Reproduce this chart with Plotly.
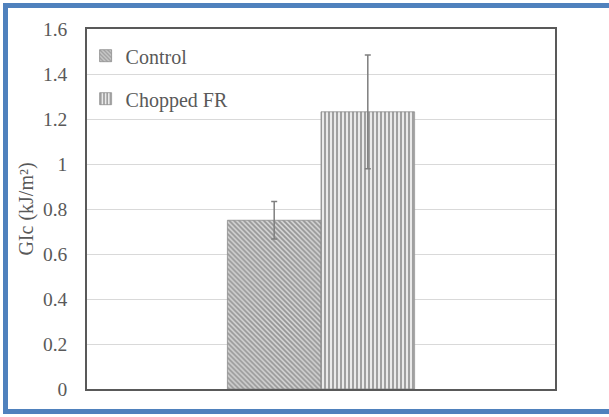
import plotly.graph_objects as go

categories = ["Sample"]
series_names = ["Control", "Chopped FR"]
control_vals = [0.75]
control_err = [0.083]
chopped_vals = [1.232]
chopped_err = [0.253]
y_tick_vals = [0, 0.2, 0.4, 0.6, 0.8, 1.0, 1.2, 1.4, 1.6]
y_tick_text = ["0", "0.2", "0.4", "0.6", "0.8", "1", "1.2", "1.4", "1.6"]

FONT = "Liberation Serif, Times New Roman, serif"
GRAY = "#595959"

fig = go.Figure()
fig.add_trace(go.Bar(
    x=categories, y=control_vals, name=series_names[0], legendgroup="a",
    marker=dict(color="#bfbfbf", line=dict(color="#8c8c8c", width=0.8),
                pattern=dict(shape="\\", size=3.5, solidity=0.5,
                             fgcolor="#555555", bgcolor="#d4d4d4", fillmode="overlay")),
    error_y=dict(type="data", array=control_err, color="#7f7f7f", thickness=1.5, width=3),
))
fig.add_trace(go.Bar(
    x=categories, y=chopped_vals, name=series_names[1], legendgroup="b",
    marker=dict(color="white", line=dict(color="#8c8c8c", width=0.8),
                pattern=dict(shape="|", size=4, solidity=0.55,
                             fgcolor="#4d4d4d", bgcolor="#f2f2f2", fillmode="overlay")),
    error_y=dict(type="data", array=chopped_err, color="#7f7f7f", thickness=1.5, width=3),
))

fig.update_layout(
    width=609, height=417,
    margin=dict(l=87, r=54, t=29, b=28),
    paper_bgcolor="white", plot_bgcolor="white",
    barmode="group", bargap=0.6, bargroupgap=0,
    font=dict(family=FONT, color=GRAY, size=18),
    showlegend=True,
    legend=dict(x=-0.003, y=0.98, xanchor="left", yanchor="top",
                bgcolor="rgba(0,0,0,0)", font=dict(size=20, color=GRAY, family=FONT),
                tracegroupgap=14, itemwidth=30),
    xaxis=dict(showticklabels=False, ticks="", showgrid=False,
               showline=True, linecolor=GRAY, linewidth=1.5, mirror=True, range=[-0.5, 0.5]),
    yaxis=dict(range=[0, 1.6], tickvals=y_tick_vals, ticktext=y_tick_text,
               showgrid=True, gridcolor="#d9d9d9", gridwidth=1,
               showline=True, linecolor=GRAY, linewidth=1.5, mirror=True,
               ticks="outside", ticklen=14, tickcolor="rgba(0,0,0,0)",
               tickfont=dict(size=19.5, family=FONT, color=GRAY),
               zeroline=False, automargin=False,
               title=dict(text="GIc (kJ/m²)", font=dict(size=20, family=FONT, color=GRAY), standoff=4)),
    shapes=[dict(type="rect", xref="paper", yref="paper",
                 x0=(5.5 - 87) / 468, x1=(640 - 87) / 468,
                 y0=(389 - 411.5) / 360, y1=(389 - 5.5) / 360,
                 line=dict(color="#4f81bd", width=5), fillcolor="rgba(0,0,0,0)", layer="above")],
)

fig.write_html("out.html", config={"displayModeBar": False},
               post_script="document.body.style.margin='0px';")
